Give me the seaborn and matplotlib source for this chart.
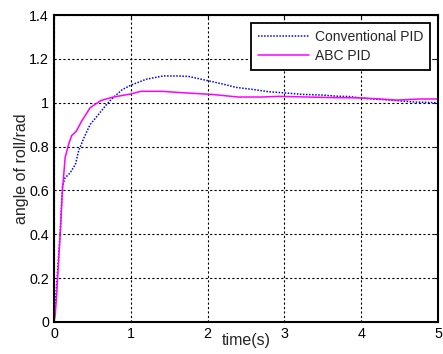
import matplotlib
matplotlib.use("Agg")
import matplotlib.pyplot as plt
import seaborn as sns
import pandas as pd

# Conventional PID (blue dotted)
t_conv = [0.0, 0.02, 0.05, 0.08, 0.11, 0.145, 0.21, 0.28, 0.32, 0.39, 0.47, 0.58, 0.68, 0.76,
          0.89, 1.0, 1.2, 1.42, 1.6, 1.75, 2.01, 2.2, 2.37, 2.6, 2.8, 3.0, 3.24, 3.5,
          3.67, 3.85, 4.03, 4.25, 4.46, 4.7, 5.0]
y_conv = [0.0, 0.10, 0.25, 0.40, 0.62, 0.658, 0.68, 0.72, 0.78, 0.84, 0.90, 0.947, 0.99, 1.02,
          1.06, 1.08, 1.107, 1.122, 1.122, 1.12, 1.10, 1.085, 1.07, 1.06, 1.05, 1.045, 1.038, 1.035,
          1.03, 1.028, 1.02, 1.015, 1.01, 1.003, 1.0]

# ABC PID (magenta solid)
t_abc = [0.0, 0.015, 0.035, 0.08, 0.11, 0.145, 0.19, 0.23, 0.29, 0.36, 0.47, 0.61, 0.76,
         1.0, 1.13, 1.4, 1.66, 1.85, 2.05, 2.4, 2.7, 2.93, 3.3, 3.67, 4.0, 4.2, 4.46, 4.77, 5.0]
y_abc = [0.0, 0.03, 0.126, 0.40, 0.60, 0.75, 0.81, 0.85, 0.87, 0.916, 0.977, 1.01, 1.025,
         1.04, 1.052, 1.052, 1.046, 1.042, 1.038, 1.026, 1.026, 1.029, 1.026, 1.023, 1.022, 1.018, 1.012, 1.017, 1.017]

series_names = ["Conventional PID", "ABC PID"]
x_ticks = [0, 1, 2, 3, 4, 5]
y_ticks = [0, 0.2, 0.4, 0.6, 0.8, 1.0, 1.2, 1.4]
y_tick_labels = ["0", "0.2", "0.4", "0.6", "0.8", "1", "1.2", "1.4"]

sns.set_theme(style="white")
plt.rcParams["font.family"] = ["Liberation Sans", "DejaVu Sans"]

df = pd.concat([
    pd.DataFrame({"t": t_conv, "y": y_conv, "series": series_names[0]}),
    pd.DataFrame({"t": t_abc, "y": y_abc, "series": series_names[1]}),
])

fig = plt.figure(figsize=(4.43, 3.54), dpi=100)
ax = fig.add_axes([0.1219, 0.0904, 0.8668, 0.8672])

sns.lineplot(data=df[df.series == series_names[0]], x="t", y="y", ax=ax,
             color="#0000ff", linestyle=(0, (1, 1)), linewidth=1.1,
             label=series_names[0], estimator=None, sort=False)
sns.lineplot(data=df[df.series == series_names[1]], x="t", y="y", ax=ax,
             color="#ff00ff", linestyle="-", linewidth=1.1,
             label=series_names[1], estimator=None, sort=False)

ax.set_xlim(0, 5)
ax.set_ylim(0, 1.4)
ax.set_xticks(x_ticks)
ax.set_xticklabels([str(v) for v in x_ticks])
ax.set_yticks(y_ticks)
ax.set_yticklabels(y_tick_labels)
ax.grid(True, color="black", linestyle=(0, (2, 2)), linewidth=0.8)
for s in ax.spines.values():
    s.set_color("black")
    s.set_linewidth(1.5)
    s.set_visible(True)
ax.tick_params(direction="in", length=3, width=0.8, top=True, right=True,
               labelsize=10.3, colors="black", pad=3.6)

ax.set_xlabel("time(s)", fontsize=11.5, labelpad=-5.5)
ax.set_ylabel("angle of roll/rad", fontsize=11.5, labelpad=0)

leg = ax.legend(loc="upper right", fontsize=10, frameon=True, fancybox=False,
                edgecolor="black", framealpha=1, borderpad=0.5, handlelength=3.7,
                labelspacing=0.4, handletextpad=0.4, borderaxespad=0.55)
leg.get_frame().set_linewidth(1.3)

fig.savefig("out.png", dpi=100)
